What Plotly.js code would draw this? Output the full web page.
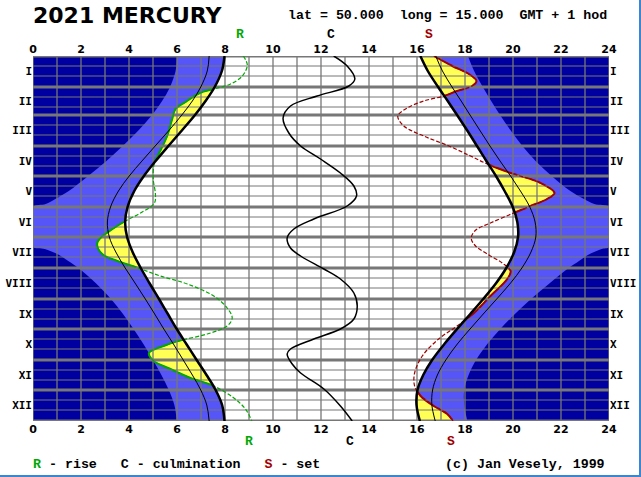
<!DOCTYPE html>
<html><head><meta charset="utf-8">
<script src="https://cdn.plot.ly/plotly-3.0.1.min.js"></script>
<style>
html,body{margin:0;padding:0;background:#fff;}
#wrap{position:relative;width:641px;height:477px;overflow:hidden;}
#chart{width:641px;height:477px;}
.bR{position:absolute;right:0;top:0;width:2px;height:477px;background:#3b86cf;}
.bB{position:absolute;left:0;bottom:0;height:2px;width:641px;background:#3b86cf;}
</style>
</head><body>
<div id="wrap"><div id="chart"></div><div class="bR"></div><div class="bB"></div></div>
<script>
// ---------- data (day of year 0..365, time in hours GMT+1) ----------
const MONTH_DAYS = [31,28,31,30,31,30,31,31,30,31,30,31];
const MONTH_LABELS = ['I','II','III','IV','V','VI','VII','VIII','IX','X','XI','XII'];
const HOUR_TICKS = [0,2,4,6,8,10,12,14,16,18,20,22,24];

const sunDays   = [0,15,31,45,59,74,90,105,120,135,151,166,181,196,212,227,243,258,273,288,304,319,334,349,365];
const sunrise   = [7.98,7.87,7.57,7.19,6.75,6.22,5.64,5.11,4.62,4.22,3.94,3.84,3.92,4.15,4.49,4.85,5.25,5.62,5.99,6.39,6.82,7.23,7.61,7.88,7.98];
const sunset    = [16.14,16.45,16.88,17.28,17.67,18.08,18.50,18.89,19.29,19.65,19.99,20.18,20.21,20.05,19.72,19.30,18.76,18.22,17.67,17.14,16.63,16.26,16.02,15.98,16.12];
const civilDawn = [7.34,7.26,6.99,6.64,6.20,5.68,5.09,4.54,4.01,3.56,3.23,3.10,3.18,3.45,3.84,4.25,4.68,5.07,5.45,5.85,6.26,6.64,6.99,7.24,7.34];
const civilDusk = [16.78,17.06,17.46,17.84,18.21,18.61,19.04,19.46,19.90,20.31,20.70,20.92,20.95,20.75,20.37,19.90,19.32,18.76,18.21,17.68,17.20,16.85,16.65,16.62,16.76];

const astroDays = [0,15,31,45,59,74,90,105,120,135,143,148,151,166,181,191,193,199,205,212,227,243,258,273,288,304,319,334,349,365];
const astroDawn = [6.00,5.94,5.71,5.38,4.96,4.41,3.74,3.06,2.30,1.49,0.93,0.53,0,0,0,0,0.49,1.09,1.47,1.89,2.61,3.25,3.75,4.19,4.60,5.00,5.35,5.66,5.89,5.99];
const astroDusk = [18.12,18.38,18.74,19.09,19.46,19.89,20.39,20.94,21.61,22.39,22.96,23.39,24,24,24,24,23.69,23.12,22.75,22.32,21.54,20.75,20.08,19.47,18.93,18.46,18.15,17.97,17.97,18.10];

const riseDays  = [0,9,20,28,33,37,45,53,63,80,93,107,123,138,147,157,165,174,182,188,198,205,211,220,228,240,252,262,270,278,284,289,297,305,313,322,330,342,353,365];
const riseHours = [8.76,8.93,8.72,8.23,7.53,6.95,6.42,5.94,5.80,5.59,5.34,5.06,5.01,5.10,5.06,4.48,3.85,3.25,2.81,2.67,2.88,3.51,4.27,5.31,6.43,7.53,8.09,8.30,8.09,7.26,6.22,5.55,4.83,5.03,5.73,6.56,7.53,8.37,8.85,9.12];

const culmDays  = [0,10,23,30,40,50,62,77,90,103,117,130,140,150,163,173,182,192,200,213,223,237,250,263,273,283,293,298,308,317,333,350,365];
const culmHours = [12.53,13.09,13.41,13.16,11.84,10.73,10.42,10.66,11.15,11.98,12.81,13.37,13.48,13.09,11.70,10.87,10.59,10.73,11.15,12.12,12.81,13.37,13.51,13.37,12.81,11.70,10.73,10.59,10.80,11.15,12.12,12.81,13.30];

const setDays   = [0,10,18,25,30,35,40,45,52,60,70,80,90,100,108,117,127,137,143,150,157,167,174,182,190,198,207,215,223,240,257,270,283,300,317,330,340,350,358,365];
const setHours  = [16.70,17.47,18.16,18.48,18.30,17.67,17.12,16.28,15.59,15.20,15.45,16.28,17.33,18.23,18.93,19.90,21.15,21.73,21.42,20.73,20.03,19.06,18.45,18.26,18.44,18.93,19.55,19.90,19.76,19.06,18.37,17.67,16.90,16.22,15.90,15.90,16.15,16.70,17.26,17.50];

// ---------- style ----------
const DARK='#0000A0', MID='#5656F8', YEL='#FFFF55', GREEN='#00A800', RED='#A00000', GRID='#777777';
const HMAX = HOUR_TICKS[HOUR_TICKS.length-1];
const sp = s => s.replace(/ /g,'\u00A0');

const monthStart=[0]; MONTH_DAYS.forEach(n=>monthStart.push(monthStart[monthStart.length-1]+n));
const YEAR = monthStart[12];
const monthMid = MONTH_DAYS.map((n,i)=>monthStart[i]+n/2);

function base(x,y){return {type:'scatter',mode:'lines',x:x,y:y,line:{width:0,shape:'spline'},hoverinfo:'skip',showlegend:false};}
function ln(x,y,color,width,dash,extra){return Object.assign({type:'scatter',mode:'lines',x:x,y:y,line:{color:color,width:width,dash:dash||'solid',shape:'spline'},hoverinfo:'skip',showlegend:false},extra||{});}

// grid
const gvx=[],gvy=[]; for(let h=0;h<=HMAX;h++){gvx.push(h,h,null);gvy.push(0,YEAR,null);}
const gtx=[],gty=[]; monthStart.slice(0,12).forEach(s=>{[10,20].forEach(k=>{gtx.push(0,HMAX,null);gty.push(s+k,s+k,null);});});
const gmx=[],gmy=[]; monthStart.forEach(s=>{gmx.push(0,HMAX,null);gmy.push(s,s,null);});

const traces=[
  base(astroDawn,astroDays),
  ln(astroDusk,astroDays,MID,0,null,{fill:'tonextx',fillcolor:MID}),
  base(sunrise,sunDays),
  ln(riseHours,riseDays,GREEN,2,null,{fill:'tonextx',fillcolor:YEL}),
  base(sunset,sunDays),
  ln(setHours,setDays,RED,2,null,{fill:'tonextx',fillcolor:YEL}),
  base(sunrise,sunDays),
  ln(sunset,sunDays,'#fff',0,null,{fill:'tonextx',fillcolor:'#FFFFFF'}),
  {type:'scatter',mode:'lines',x:gvx,y:gvy,line:{color:GRID,width:1.3},hoverinfo:'skip',showlegend:false},
  {type:'scatter',mode:'lines',x:gtx,y:gty,line:{color:GRID,width:1},hoverinfo:'skip',showlegend:false},
  {type:'scatter',mode:'lines',x:gmx,y:gmy,line:{color:GRID,width:3},hoverinfo:'skip',showlegend:false},
  ln(culmHours,culmDays,'#000',1.5),
  ln(riseHours,riseDays,GREEN,1.2,'4px,2px'),
  ln(setHours,setDays,RED,1.2,'4px,2px'),
  ln(civilDawn,sunDays,'#000',1),
  ln(civilDusk,sunDays,'#000',1),
  ln(sunrise,sunDays,'#000',2.5),
  ln(sunset,sunDays,'#000',2.5),
  {type:'scatter',mode:'lines',x:[null],y:[null],xaxis:'x2',yaxis:'y2',hoverinfo:'skip',showlegend:false}
];

const tickFont={family:'DejaVu Sans',size:11,color:'#000',weight:'bold'};
const monFont={family:'DejaVu Sans Mono',size:11,color:'#000',weight:'bold'};
const axX={range:[0,HMAX],tickvals:HOUR_TICKS,ticktext:HOUR_TICKS.map(String),showgrid:false,zeroline:false,showline:false,ticks:'',tickfont:tickFont,fixedrange:true};
const axY={range:[YEAR,0],tickvals:monthMid,ticktext:MONTH_LABELS,showgrid:false,zeroline:false,showline:false,ticks:'',tickfont:monFont,fixedrange:true};

const txtFont={family:'Liberation Mono',size:13,color:'#000',weight:'bold'};
const pyTop = v => 1 + (56 - v)/365;
const pyBot = v => -(v - 421)/365;
const ann=[
  {xref:'paper',yref:'paper',x:-0.004,y:pyTop(15.5),xanchor:'left',yanchor:'middle',showarrow:false,text:'2021 MERCURY',font:{family:'DejaVu Sans',size:22,color:'#000',weight:'bold'}},
  {xref:'paper',yref:'paper',x:1,y:pyTop(15.5),xanchor:'right',yanchor:'middle',showarrow:false,text:sp('lat = 50.000  long = 15.000  GMT + 1 hod'),font:Object.assign({},txtFont,{size:13.3})},
  {xref:'x',yref:'paper',x:riseHours[0]-0.15,y:pyTop(34.7),xanchor:'center',yanchor:'middle',showarrow:false,text:'R',font:Object.assign({},txtFont,{color:GREEN})},
  {xref:'x',yref:'paper',x:culmHours[0]-0.1,y:pyTop(34.7),xanchor:'center',yanchor:'middle',showarrow:false,text:'C',font:txtFont},
  {xref:'x',yref:'paper',x:setHours[0]-0.2,y:pyTop(34.7),xanchor:'center',yanchor:'middle',showarrow:false,text:'S',font:Object.assign({},txtFont,{color:RED})},
  {xref:'x',yref:'paper',x:riseHours[riseHours.length-1]-0.1,y:pyBot(441),xanchor:'center',yanchor:'middle',showarrow:false,text:'R',font:Object.assign({},txtFont,{color:GREEN})},
  {xref:'x',yref:'paper',x:culmHours[culmHours.length-1]-0.1,y:pyBot(441),xanchor:'center',yanchor:'middle',showarrow:false,text:'C',font:txtFont},
  {xref:'x',yref:'paper',x:setHours[setHours.length-1]-0.1,y:pyBot(441),xanchor:'center',yanchor:'middle',showarrow:false,text:'S',font:Object.assign({},txtFont,{color:RED})},
  {xref:'paper',yref:'paper',x:-0.004,y:pyBot(464),xanchor:'left',yanchor:'middle',showarrow:false,
   text:'<span style="color:'+GREEN+'">R</span>'+sp(' - rise   C - culmination   ')+'<span style="color:'+RED+'">S</span>'+sp(' - set'),font:Object.assign({},txtFont,{size:13.3})},
  {xref:'paper',yref:'paper',x:0.997,y:pyBot(464),xanchor:'right',yanchor:'middle',showarrow:false,text:sp('(c) Jan Vesely, 1999'),font:Object.assign({},txtFont,{size:13.3})}
];

const layout={
  width:641,height:477,margin:{l:33,r:32,t:56,b:56,pad:0},
  paper_bgcolor:'#FFFFFF',plot_bgcolor:DARK,showlegend:false,
  xaxis:Object.assign({},axX,{side:'bottom',anchor:'y'}),
  xaxis2:Object.assign({},axX,{side:'top',overlaying:'x',anchor:'y'}),
  yaxis:Object.assign({},axY,{side:'left',anchor:'x'}),
  yaxis2:Object.assign({},axY,{side:'right',overlaying:'y',anchor:'x'}),
  annotations:ann
};
Plotly.newPlot('chart',traces,layout,{displayModeBar:false,staticPlot:true});
</script></body></html>
